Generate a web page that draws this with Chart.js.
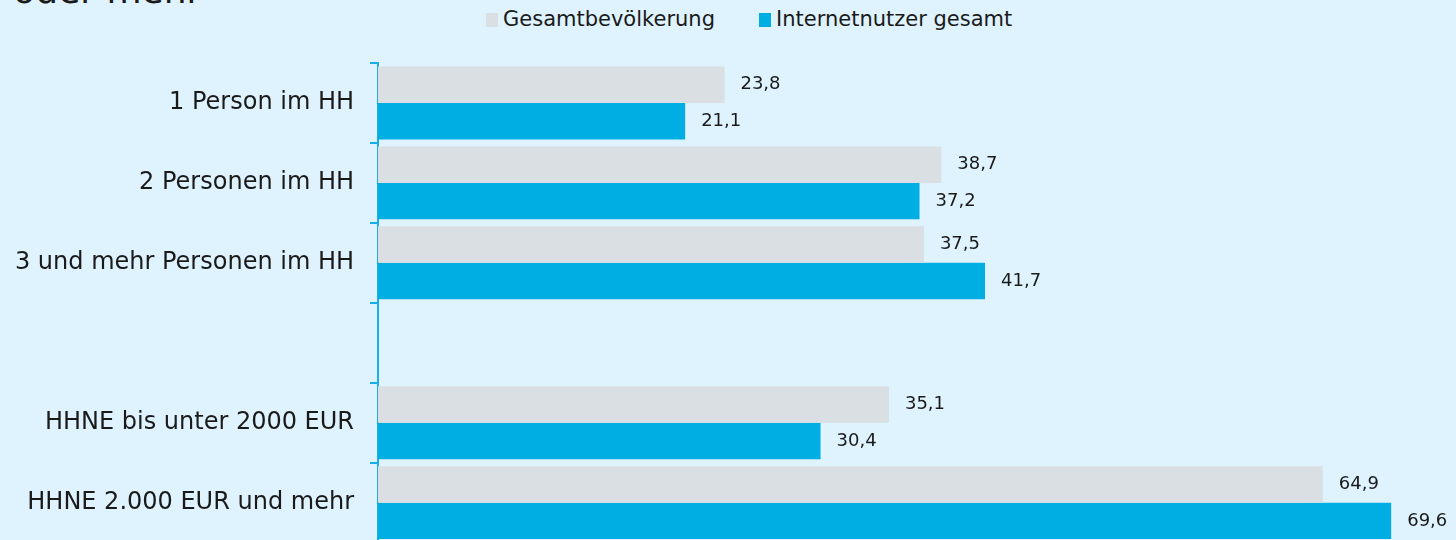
<!DOCTYPE html>
<html>
<head>
<meta charset="utf-8">
<script src="https://cdn.jsdelivr.net/npm/chart.js@4"></script>
<style>
  html, body { margin: 0; padding: 0; background: #dff3fe; overflow: hidden; }
  body { width: 1456px; height: 540px; position: relative; font-family: "DejaVu Sans", Verdana, sans-serif; color: #1a1a1a; }
  #title { position: absolute; left: -21px; top: -27px; font-size: 36px; line-height: 36px; white-space: nowrap; }
  .legend-item { position: absolute; top: 6px; font-size: 21px; line-height: 26px; white-space: nowrap; }
  .legend-item i { display: inline-block; width: 12px; height: 14px; margin-right: 5px; vertical-align: -1px; }
  #chart { position: absolute; left: 0; top: 0; }
</style>
</head>
<body>
<div id="title">n oder mehr</div>
<div class="legend-item" style="left:486px"><i style="background:#d9dfe2"></i>Gesamtbevölkerung</div>
<div class="legend-item" style="left:759px"><i style="background:#00aee4"></i>Internetnutzer gesamt</div>
<!-- canvas is taller than the window: the last category runs off the bottom edge like in the original -->
<canvas id="chart" width="1456" height="573"></canvas>
<script>
const categories = [
    '1 Person im HH',
    '2 Personen im HH',
    '3 und mehr Personen im HH',
    '',
    'HHNE bis unter 2000 EUR',
    'HHNE 2.000 EUR und mehr'
];
const gesamtbevoelkerung = [23.8, 38.7, 37.5, null, 35.1, 64.9];
const internetnutzer = [21.1, 37.2, 41.7, null, 30.4, 69.6];

const FONT = '"DejaVu Sans", Verdana, sans-serif';

// value labels at the end of each bar, German decimal comma
const valueLabels = {
    id: 'valueLabels',
    afterDatasetsDraw(chart) {
        const ctx = chart.ctx;
        ctx.save();
        ctx.font = '18px ' + FONT;
        ctx.fillStyle = '#1a1a1a';
        ctx.textAlign = 'left';
        ctx.textBaseline = 'middle';
        chart.data.datasets.forEach((ds, di) => {
            chart.getDatasetMeta(di).data.forEach((bar, i) => {
                const v = ds.data[i];
                if (v == null) return;
                ctx.fillText(v.toFixed(1).replace('.', ','), bar.x + 16, bar.y);
            });
        });
        ctx.restore();
    }
};

new Chart(document.getElementById('chart').getContext('2d'), {
    type: 'bar',
    data: {
        labels: categories,
        datasets: [{
            label: 'Gesamtbevölkerung',
            data: gesamtbevoelkerung,
            backgroundColor: '#d9dfe2'
        }, {
            label: 'Internetnutzer gesamt',
            data: internetnutzer,
            backgroundColor: '#00aee4'
        }]
    },
    options: {
        indexAxis: 'y',
        responsive: false,
        animation: false,
        categoryPercentage: 0.9125,
        barPercentage: 1,
        layout: { padding: { top: 63, bottom: 0, right: 59, left: 0 } },
        scales: {
            x: { display: false, min: 0, max: 70 },
            y: {
                afterFit: (scale) => { scale.width = 378; },
                border: { display: true, color: '#1aafe6', width: 2 },
                grid: { drawOnChartArea: false, drawTicks: true, tickLength: 8, color: '#1aafe6', lineWidth: 2 },
                ticks: { color: '#1a1a1a', font: { family: FONT, size: 24 }, padding: 16 }
            }
        },
        plugins: {
            legend: { display: false },
            tooltip: { enabled: false }
        }
    },
    plugins: [valueLabels]
});
</script>
</body>
</html>
